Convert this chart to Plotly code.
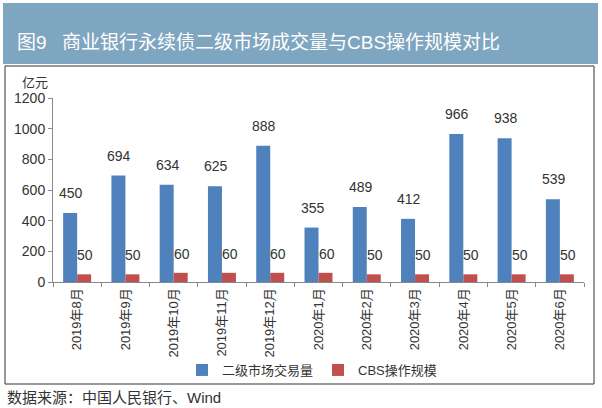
import plotly.graph_objects as go

categories = ["2019年8月", "2019年9月", "2019年10月", "2019年11月", "2019年12月",
              "2020年1月", "2020年2月", "2020年3月", "2020年4月", "2020年5月", "2020年6月"]
secondary_volume = [450, 694, 634, 625, 888, 355, 489, 412, 966, 938, 539]
cbs_scale = [50, 50, 60, 60, 60, 60, 50, 50, 50, 50, 50]
y_ticks = [0, 200, 400, 600, 800, 1000, 1200]

BLUE = "#4F81BD"
RED = "#C0504D"
FONT = "Liberation Sans, Noto Sans CJK SC, sans-serif"

# pixel -> paper helpers (plot area: x 53..584, y 98..282)
L, R, T, B = 53, 584, 98, 282
def px(x):
    return (x - L) / (R - L)
def py(y):
    return (B - y) / (B - T)

fig = go.Figure()
fig.add_trace(go.Bar(x=categories, y=secondary_volume, name="二级市场交易量",
                     marker=dict(color=BLUE, line=dict(width=0))))
fig.add_trace(go.Bar(x=categories, y=cbs_scale, name="CBS操作规模",
                     marker=dict(color=RED, line=dict(width=0))))

annotations = []
for c, v in zip(categories, secondary_volume):
    annotations.append(dict(x=c, y=v, text=str(v), showarrow=False, xref="x", yref="y",
                            xshift=-6, yshift=10, yanchor="bottom",
                            font=dict(size=14, color="#333333", family=FONT)))
for c, v in zip(categories, cbs_scale):
    annotations.append(dict(x=c, y=v, text=str(v), showarrow=False, xref="x", yref="y",
                            xshift=8, yshift=9, yanchor="bottom",
                            font=dict(size=14, color="#333333", family=FONT)))

annotations.append(dict(x=px(20), y=py(82), xref="paper", yref="paper", text="亿元",
                        showarrow=False, xanchor="left", yanchor="middle",
                        font=dict(size=13, color="#333333", family=FONT)))
annotations.append(dict(x=px(15), y=py(42), xref="paper", yref="paper",
                        text="图9", showarrow=False, xanchor="left", yanchor="middle",
                        font=dict(size=19, color="white", family=FONT)))
annotations.append(dict(x=px(60), y=py(42), xref="paper", yref="paper",
                        text="商业银行永续债二级市场成交量与CBS操作规模对比",
                        showarrow=False, xanchor="left", yanchor="middle",
                        font=dict(size=19, color="white", family=FONT)))
annotations.append(dict(x=px(5), y=py(397), xref="paper", yref="paper",
                        text="数据来源：中国人民银行、Wind",
                        showarrow=False, xanchor="left", yanchor="middle",
                        font=dict(size=15, color="#333333", family=FONT)))

shapes = [
    dict(type="rect", xref="paper", yref="paper", x0=px(3), x1=px(598), y0=py(3), y1=py(64),
         fillcolor="#7FA6C0", line=dict(width=0), layer="below"),
    dict(type="rect", xref="paper", yref="paper", x0=px(5), x1=px(594), y0=py(66), y1=py(384),
         fillcolor="rgba(0,0,0,0)", line=dict(width=1, color="#333333"), layer="above"),
]

fig.update_layout(
    width=602, height=408,
    margin=dict(l=L, r=602 - R, t=T, b=408 - B),
    paper_bgcolor="white", plot_bgcolor="white",
    barmode="group", bargap=0.42, bargroupgap=0,
    font=dict(family=FONT, color="#333333"),
    showlegend=True,
    legend=dict(orientation="h", x=px(312), xanchor="center", y=py(370), yanchor="middle",
                bgcolor="rgba(0,0,0,0)",
                font=dict(size=13, color="#333333", family=FONT),
                itemwidth=30, tracegroupgap=0, itemsizing="constant"),
    xaxis=dict(type="category", tickangle=-90, tickson="boundaries", ticks="outside",
               ticklen=4, tickcolor="#888888", showline=True, linecolor="#888888",
               linewidth=1, showgrid=False,
               tickfont=dict(size=13, color="#333333", family=FONT)),
    yaxis=dict(range=[0, 1200], tickvals=y_ticks, ticks="outside", ticklen=4,
               tickcolor="#888888", showline=True, linecolor="#888888", linewidth=1,
               showgrid=False, zeroline=False,
               tickfont=dict(size=14, color="#333333", family=FONT)),
    annotations=annotations,
    shapes=shapes,
)

fig.write_html("out.html")
